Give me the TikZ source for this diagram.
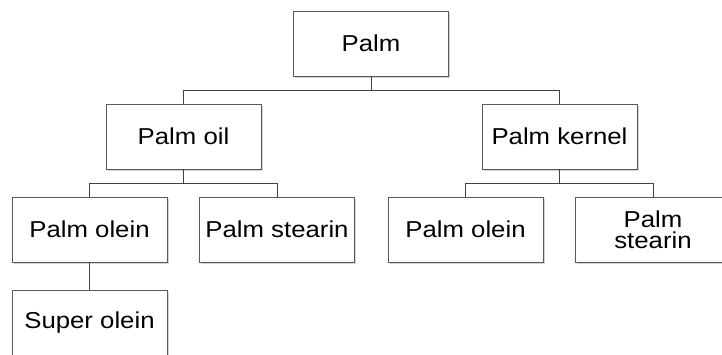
\documentclass[tikz,border=0pt]{standalone}
\usepackage{fontspec}
\setmainfont{Liberation Sans}[FakeStretch=1.12]
\usetikzlibrary{shadows}

\tikzset{
  part/.style={draw=black!65, line width=0.8pt, fill=white,
    minimum width=155pt, minimum height=65pt, inner sep=1pt,
    align=center, font=\fontsize{23}{21}\selectfont,
    drop shadow={shadow xshift=1.5pt, shadow yshift=-1.5pt, opacity=0.35}},
  link/.style={draw=black!75, line width=0.8pt}
}

\begin{document}
\begin{tikzpicture}[x=1pt, y=-1pt]
\useasboundingbox (0, 0) rectangle (722, 354);

\node[part] (palm) at (371, 43.5) {Palm};
\node[part] (oil) at (183.5, 136.5) {Palm oil};
\node[part] (kernel) at (559.5, 136.5) {Palm kernel};

\node[part] (oilolein) at (89.5, 229.5) {Palm olein};
\node[part] (oilstearin) at (277, 229.5) {Palm stearin};
\node[part] (kernelolein) at (465.5, 229.5) {Palm olein};
\node[part] (kernelstearin) at (653, 229.5) {Palm\\stearin};

\node[part] (super) at (89.5, 322.5) {Super olein};

% tree links
\draw[link] (palm.south) -- ++(0, 14) -| (oil.north);
\draw[link] (palm.south) -- ++(0, 14) -| (kernel.north);
\draw[link] (oil.south) -- ++(0, 14) -| (oilolein.north);
\draw[link] (oil.south) -- ++(0, 14) -| (oilstearin.north);
\draw[link] (kernel.south) -- ++(0, 14) -| (kernelolein.north);
\draw[link] (kernel.south) -- ++(0, 14) -| (kernelstearin.north);
\draw[link] (oilolein.south) -- (super.north);
\end{tikzpicture}
\end{document}
